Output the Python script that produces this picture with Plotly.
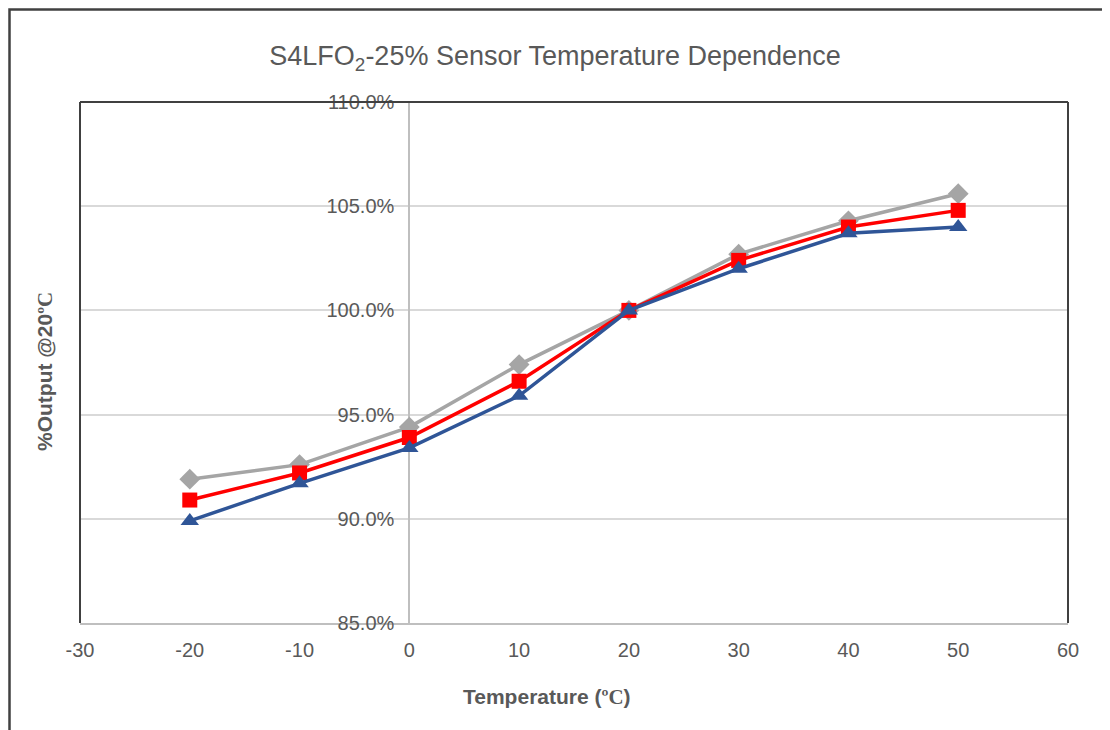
import plotly.graph_objects as go

temps = [-20, -10, 0, 10, 20, 30, 40, 50]
gray_vals = [91.9, 92.6, 94.4, 97.4, 100.0, 102.7, 104.3, 105.6]
red_vals = [90.9, 92.2, 93.9, 96.6, 100.0, 102.4, 104.0, 104.8]
blue_vals = [89.9, 91.7, 93.4, 95.9, 100.0, 102.0, 103.7, 104.0]

x_ticks = [-30, -20, -10, 0, 10, 20, 30, 40, 50, 60]
y_ticks = [85, 90, 95, 100, 105, 110]
y_ticktext = ["85.0%", "90.0%", "95.0%", "100.0%", "105.0%", "110.0%"]

series = [
    ("Series 1", gray_vals, "#A5A5A5", "diamond", 16),
    ("Series 2", red_vals, "#FF0000", "square", 15),
    ("Series 3", blue_vals, "#2F5597", "triangle-up", 16),
]

# page body has an 8px margin; compensate so the plot sits where the reference does
OFF = 8
W, H = 1110 - OFF, 730 - OFF
L, T = 80 - OFF, 102 - OFF
PW, PH = 988, 521
R = W - L - PW
B = H - T - PH

fig = go.Figure()
for name, vals, color, sym, size in series:
    fig.add_trace(go.Scatter(
        x=temps, y=vals, mode="lines+markers", name=name,
        line=dict(color=color, width=3.5),
        marker=dict(symbol=sym, size=size, color=color),
        showlegend=False,
    ))

txt = "#595959"
serif_c = "<span style='font-family:\"Liberation Serif\", serif'>ºC</span>"
fig.update_layout(
    width=W, height=H,
    margin=dict(l=L, r=R, t=T, b=B),
    paper_bgcolor="white", plot_bgcolor="white",
    font=dict(family="Arial, Liberation Sans, sans-serif", color=txt, size=20),
    title=dict(
        text="S4LFO<sub>2</sub>-25% Sensor Temperature Dependence",
        x=(555 - OFF) / W, xref="container", xanchor="center",
        y=1 - (56 - OFF) / H, yanchor="middle",
        font=dict(size=27, color=txt),
    ),
    xaxis=dict(
        range=[-30, 60], tickvals=x_ticks, ticktext=[str(v) for v in x_ticks],
        showgrid=False, zeroline=True, zerolinecolor="#BFBFBF", zerolinewidth=2,
        showline=True, linecolor="#BFBFBF", linewidth=2,
        ticks="", ticklabelstandoff=8, tickfont=dict(size=20, color=txt),
    ),
    yaxis=dict(
        range=[85, 110], tickvals=y_ticks, ticktext=y_ticktext,
        showgrid=True, gridcolor="#D9D9D9", gridwidth=1.5,
        zeroline=False, showline=False, ticks="",
        anchor="free", position=1 / 3,
        ticklabelstandoff=15, tickfont=dict(size=20, color=txt),
    ),
    shapes=[
        dict(type="line", xref="paper", yref="paper", x0=0, x1=1, y0=1, y1=1,
             line=dict(color="#404040", width=2), layer="above"),
        dict(type="line", xref="paper", yref="paper", x0=0, x1=0, y0=0, y1=1,
             line=dict(color="#404040", width=2), layer="above"),
        dict(type="line", xref="paper", yref="paper", x0=1, x1=1, y0=0, y1=1,
             line=dict(color="#404040", width=2), layer="above"),
        # outer frame (kept just inside the figure)
        dict(type="rect", xref="paper", yref="paper",
             x0=(1.5 - L) / PW, x1=1.2, y0=-0.5, y1=(PH + T - 1.5) / PH,
             line=dict(color="#404040", width=2.5), layer="above"),
    ],
    annotations=[
        dict(text="<b>%Output @20" + serif_c + "</b>", textangle=-90,
             xref="paper", yref="paper",
             x=(45 - 80) / PW, y=(623 - 372) / PH,
             xanchor="center", yanchor="middle", showarrow=False,
             font=dict(size=21, color=txt)),
        dict(text="<b>Temperature (" + serif_c + ")</b>",
             xref="paper", yref="paper",
             x=(547 - 80) / PW, y=(623 - 697) / PH,
             xanchor="center", yanchor="middle", showarrow=False,
             font=dict(size=21, color=txt)),
    ],
)

fig.write_html("out.html")
